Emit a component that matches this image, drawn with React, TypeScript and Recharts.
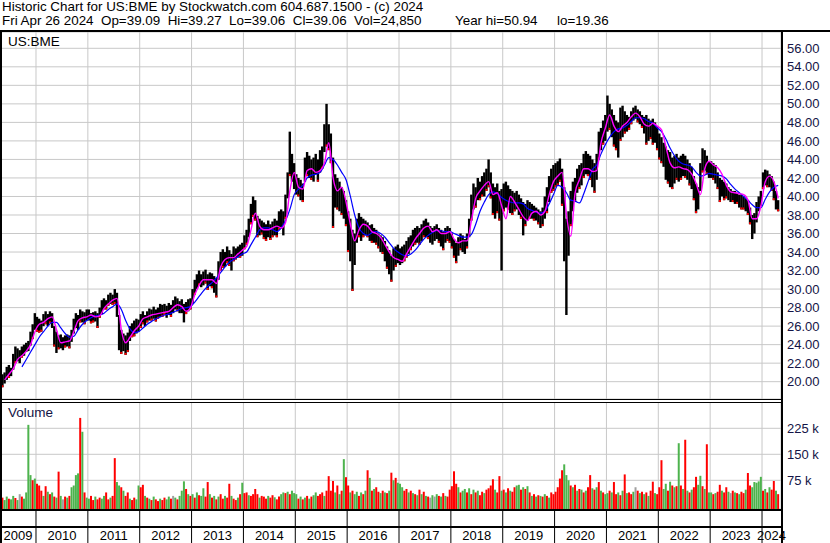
import React from "react";
import { ComposedChart, Bar, Line, XAxis, YAxis, CartesianGrid, Cell } from "recharts";

// ---------- data ----------
const YEARS = [2009, 2010, 2011, 2012, 2013, 2014, 2015, 2016, 2017, 2018, 2019, 2020, 2021, 2022, 2023, 2024];
const FIRST_SLOT_2009 = 8; // data starts in May 2009 (half-month slots)
const FIRST_MONTH_2009 = 4; // May

// half-month highs
const HIGH = [
  [20.8,21.0,21.6,21.8,21.5,23.0,23.8,23.6, 23.4,23.8,24.0,24.2,24.4,25.4,26.2,27.4],
  [27.0,26.8,26.6,27.3,27.6,27.3,27.6,27.4, 26.0,25.4,25.0,25.1,24.8,25.0,25.1,25.0, 25.6,26.8,27.4,27.2,27.8,27.6,27.5,27.8],
  [27.8,27.4,27.5,27.6,27.4,28.0,28.8,29.0, 28.8,29.4,29.6,29.4,30.0,29.6,27.2,25.6, 25.2,25.0,25.3,26.0,26.3,26.6,26.8,26.7],
  [27.3,27.6,27.2,27.6,27.9,27.8,28.1,27.8, 28.0,28.4,28.3,28.4,28.2,28.5,28.3,28.8, 29.2,29.0,28.7,28.9,28.4,28.6,28.9,29.0],
  [30.0,31.0,31.6,32.0,31.6,31.9,32.1,31.6, 31.8,31.7,31.4,31.2,33.0,34.0,34.3,34.0, 34.6,34.2,33.8,34.6,34.4,34.6,34.8,35.0],
  [35.8,36.4,37.6,39.2,40.0,39.6,37.9,37.6, 37.4,37.2,37.0,37.4,37.0,37.3,37.6,37.4, 38.4,38.6,38.4,40.2,42.6,47.0,44.6,43.6],
  [42.4,42.0,41.8,41.4,44.2,44.8,44.4,44.0, 44.2,44.6,44.0,45.0,45.4,47.8,50.0,47.8, 46.8,44.2,42.4,42.0,41.6,41.0,40.6,39.6],
  [38.4,37.6,36.4,36.0,37.6,38.2,37.8,37.6, 37.4,37.2,36.9,37.0,36.6,36.4,36.0,35.8, 35.6,35.2,34.6,34.2,33.6,34.4,34.6,34.8],
  [34.4,34.6,34.8,35.2,35.6,35.8,36.4,36.6, 36.8,36.6,37.0,37.4,37.6,37.2,36.8,36.6, 36.8,37.0,36.6,36.4,36.2,36.6,36.8,36.6],
  [36.0,35.4,35.0,35.6,36.0,35.8,35.4,36.0, 37.6,40.2,41.4,41.0,42.0,41.6,42.2,42.6, 43.0,44.0,42.6,41.4,41.0,41.4,40.6,40.8],
  [41.4,41.6,41.2,40.8,40.6,40.4,40.6,40.2, 39.8,39.4,39.2,39.6,39.4,39.2,39.0,38.8, 38.6,38.4,38.8,40.0,41.0,42.2,43.0,43.4],
  [43.6,43.8,44.1,43.0,41.0,37.6,38.4,40.6, 41.6,42.0,43.0,43.4,43.6,44.6,44.9,44.6, 44.4,44.0,43.6,44.6,47.0,47.4,48.2,48.8],
  [50.9,50.0,49.4,48.8,48.2,48.0,49.6,49.8, 49.2,48.8,48.6,49.2,49.6,49.8,49.4,49.2, 48.8,48.6,48.8,48.4,48.2,48.4,48.0,47.6],
  [46.8,46.4,45.8,45.4,45.0,44.8,44.2,44.4, 44.6,44.2,44.4,44.6,44.4,44.0,43.6,43.2, 42.2,41.4,41.0,43.6,45.2,45.0,44.4,43.8],
  [43.8,43.6,43.4,42.6,42.0,41.8,41.6,41.4, 41.0,40.8,40.6,40.6,40.4,40.2,40.2,40.0, 39.8,39.6,38.8,38.0,38.2,39.4,40.0,40.6],
  [42.6,42.9,42.8,42.4,42.2,41.6,40.6,39.6],
];

// half-month lows
const LOW = [
  [19.4,19.8,20.2,20.4,20.6,21.3,22.0,22.2, 22.0,22.6,22.8,23.2,23.3,23.9,24.6,25.6],
  [25.4,25.3,25.4,26.0,26.2,26.0,26.3,25.8, 23.8,23.1,23.5,23.6,23.4,23.7,23.8,23.6, 24.3,25.2,25.8,25.6,26.4,26.4,26.2,26.6],
  [26.6,26.3,26.4,26.5,25.8,26.9,27.3,27.8, 27.8,28.2,28.4,28.3,28.4,27.0,23.4,23.0, 23.3,22.9,23.2,24.4,24.8,24.9,25.2,25.4],
  [25.8,26.2,26.0,26.4,26.6,26.6,26.8,26.5, 26.8,27.0,27.0,27.2,26.9,27.2,27.0,27.4, 27.8,27.6,27.4,27.4,26.4,27.3,27.6,27.8],
  [28.4,29.4,30.0,30.4,30.2,30.4,30.6,29.9, 30.3,30.1,29.6,29.1,31.0,32.0,32.3,32.4, 32.8,32.5,32.0,33.0,33.2,33.4,33.4,33.6],
  [34.3,34.8,35.6,37.0,37.8,37.4,35.6,35.8, 35.9,35.4,35.2,35.6,35.3,35.6,35.8,35.6, 36.4,36.5,35.8,37.6,39.8,42.2,41.6,40.8],
  [40.2,40.0,39.6,39.4,41.6,42.2,42.0,41.8, 41.6,42.4,41.6,42.6,43.0,44.8,45.4,45.0, 43.6,36.6,38.8,38.6,38.4,38.0,37.6,36.8],
  [34.0,33.0,29.8,32.6,35.0,35.6,35.2,35.6, 35.8,35.6,35.2,35.0,35.0,34.8,34.4,34.0, 33.8,33.0,32.2,31.6,30.8,32.0,32.4,32.8],
  [32.6,32.8,33.0,33.4,33.8,34.2,34.6,34.8, 35.0,34.8,35.2,35.6,35.6,35.4,35.0,34.8, 35.2,35.4,35.0,34.6,34.2,35.0,35.2,35.0],
  [34.4,33.4,32.8,33.6,34.2,34.0,33.8,34.4, 35.6,37.4,38.6,38.8,39.6,39.6,40.0,40.0, 40.6,41.0,39.8,38.0,37.6,38.2,37.4,32.0],
  [38.4,38.8,38.6,38.2,38.0,38.4,38.6,38.0, 37.6,35.8,36.8,37.4,37.6,37.6,37.4,37.4, 37.0,36.6,36.8,37.6,38.2,39.4,40.4,40.6],
  [41.0,41.2,41.6,39.0,33.0,27.2,33.6,36.8, 38.4,39.4,40.4,40.8,41.2,42.0,42.4,42.2, 41.8,41.0,40.4,41.8,44.0,45.0,45.6,46.0],
  [47.0,47.2,46.4,45.4,45.0,44.2,46.0,46.4, 46.8,47.0,47.2,47.8,48.2,48.4,48.0,47.8, 47.4,46.8,45.6,46.0,46.2,45.6,45.8,45.0],
  [44.0,43.6,43.2,41.8,41.4,41.0,40.8,41.4, 41.8,41.6,41.8,42.2,42.0,41.8,41.2,40.8, 39.6,38.2,38.6,40.6,42.6,42.8,42.4,42.0],
  [42.0,41.8,41.4,40.8,39.4,40.0,39.6,39.8, 39.6,39.4,39.4,39.2,39.2,38.8,38.6,38.6, 38.4,38.0,37.0,35.4,36.0,37.2,38.4,39.0],
  [40.8,41.2,41.0,41.0,40.6,39.6,38.6,38.4],
];

// half-month volume, thousands of shares
const VOL = [
  [25,18,28,22,20,30,24,18, 35,28,22,40,235,90,75,80],
  [65,60,45,30,58,42,35,40, 28,25,100,30,20,28,25,30, 55,60,90,95,255,215,40,25],
  [22,30,18,28,20,25,22,30, 40,20,25,30,139,70,60,55, 45,30,40,22,18,25,20,60],
  [55,62,30,25,22,18,28,20, 15,22,18,25,20,28,22,30, 25,20,30,45,72,50,35,30],
  [35,25,40,32,30,52,28,70, 35,25,30,20,28,35,22,30, 25,65,30,22,18,25,35,68],
  [38,40,32,30,35,50,35,25, 30,28,22,30,25,32,26,20, 28,35,40,38,42,35,45,38],
  [35,22,28,20,25,30,22,28, 32,40,30,35,40,30,45,87, 45,73,40,60,35,45,136,84],
  [60,40,45,35,42,30,40,35, 45,104,82,45,50,55,42,38, 45,40,38,45,97,75,82,68],
  [65,55,45,50,40,45,38,35, 32,48,35,42,30,28,25,32, 28,35,30,28,38,30,28,48],
  [58,101,65,55,40,45,50,40, 52,35,48,40,45,32,42,38, 48,52,60,78,48,40,87,45],
  [48,40,52,45,42,55,60,62, 48,55,50,58,40,30,35,28, 32,30,28,35,30,25,40,35],
  [42,55,80,104,121,90,75,60, 55,62,45,50,48,40,45,55, 90,52,48,55,70,45,40,35],
  [38,45,40,70,35,40,32,45, 92,38,40,35,42,55,45,38, 42,35,40,30,45,71,38,35],
  [55,133,50,65,45,71,60,55, 58,182,60,50,192,45,40,48, 55,85,62,88,58,50,179,40],
  [40,35,38,42,62,45,40,55, 42,38,45,40,38,35,42,38, 48,96,60,55,70,68,72,85],
  [45,50,40,55,48,73,45,35],
];

// volume bar colour per half-month: r = down, g = up, x = unchanged
const VOL_COLOR = [
  "rggrggrgxrggggrg",
  "rrrgrgrgrgrgxrgrggggrgrg",
  "grrgrrggrrgrrggrgrrgrrgg",
  "rrgrgrgrrgrrggrxgrgggrgr",
  "grgrggrrgrgrgrrgrrgrrgrg",
  "rrgrrrrgrrrgrrgrrggrgrgg",
  "grgrgrgrggrrrgrrrrgrgrgr",
  "rgrggrgrgrgrgrrgrgrgrgrg",
  "ggrrgrgrgrgrgrxgxgrgrgrr",
  "rrrgrggrgrgrgrrgrrrrgrrg",
  "rgrgrrggrgrgrgrgrgrgrgrr",
  "rrrrgggrgrgrgrgrrgrgrgrg",
  "grgrrgrgrgrrgxrgrgrgrrgr",
  "rrggrgrgrgrgrgrgrrggrgrg",
  "grgrrgrrgxrgrgrrgrrggggg",
  "rgrgrrgr",
];

// monthly moving averages (fast = magenta, slow = blue)
const MA_FAST = [
  [20.2,20.8,21.4,22.4,22.8,23.3,24.0,25.4],
  [26.2,26.4,26.8,27.0,25.6,24.2,24.3,24.4,25.4,26.6,26.9,27.0],
  [27.2,27.0,27.1,27.9,28.4,28.8,29.0,25.6,24.2,24.8,25.5,26.0],
  [26.8,27.0,27.2,27.3,27.4,27.5,27.6,28.0,28.3,28.1,27.6,28.0],
  [29.4,30.4,31.0,31.0,31.0,30.6,32.4,33.2,33.4,33.4,33.8,34.2],
  [34.6,36.4,38.2,36.8,36.4,36.4,36.6,36.8,36.6,37.2,40.6,42.6],
  [41.0,40.8,42.8,43.0,42.6,42.8,43.6,45.8,42.0,40.6,41.0,39.4],
  [37.0,35.2,36.4,37.0,36.8,36.2,36.0,35.6,34.8,34.0,33.4,33.2],
  [33.0,33.8,34.6,35.4,36.0,36.6,36.8,36.2,36.4,36.0,36.0,36.2],
  [35.4,35.0,35.2,35.2,37.4,39.8,40.6,41.2,41.6,40.2,40.4,39.0],
  [37.6,40.0,39.4,38.6,37.8,37.4,38.2,38.4,38.0,38.4,40.2,41.6],
  [42.2,42.6,38.0,35.7,40.4,41.8,43.0,43.0,42.7,42.8,45.8,47.4],
  [48.8,47.6,47.0,47.6,48.0,48.6,49.0,48.6,47.8,47.6,47.9,47.6],
  [47.2,45.4,43.6,43.1,43.2,43.0,42.9,42.4,41.4,40.2,43.0,43.8],
  [43.4,43.1,42.4,41.2,40.5,40.4,40.3,40.2,39.6,37.6,37.6,39.0],
  [41.6,42.2,41.6,39.8],
];

const MA_SLOW = [
  [null,null,null,null,21.6,22.4,23.2,24.0],
  [24.8,25.4,26.0,26.4,26.4,25.8,25.2,24.8,24.9,25.6,26.2,26.6],
  [26.9,27.1,27.2,27.4,27.8,28.1,28.4,27.8,26.6,25.7,25.3,25.4],
  [25.8,26.2,26.5,26.8,27.0,27.2,27.3,27.5,27.7,27.9,28.0,28.1],
  [28.6,29.2,29.8,30.3,30.7,31.2,31.8,32.4,32.9,33.2,33.5,33.8],
  [34.0,34.8,35.6,36.4,36.6,36.6,36.4,36.2,36.6,37.4,38.6,40.2],
  [40.8,41.2,42.0,42.3,42.4,42.6,43.4,44.2,44.0,43.4,42.6,41.8],
  [40.0,38.0,36.6,36.0,35.8,36.1,36.2,36.0,35.6,35.0,34.4,34.0],
  [33.7,33.6,33.8,34.2,34.8,35.4,35.8,36.1,36.3,36.3,36.2,36.2],
  [36.0,35.8,35.6,35.6,35.9,37.0,38.4,39.4,40.2,40.5,40.3,39.9],
  [39.6,39.4,39.3,39.3,39.2,38.7,38.5,38.3,38.2,38.4,39.2,40.2],
  [41.2,41.0,40.4,39.6,39.5,39.3,40.3,41.6,42.9,43.4,44.6,45.6],
  [46.4,47.0,47.3,47.4,47.7,48.1,48.5,48.5,48.4,48.1,47.9,47.4],
  [47.0,46.2,45.2,44.4,43.8,43.5,43.4,43.2,42.6,42.2,42.3,42.5],
  [42.4,42.3,42.2,41.9,41.3,40.8,40.4,40.0,39.6,39.1,38.8,38.8],
  [39.7,40.5,41.0,41.2],
];

const PRICE_TICKS = [20,22,24,26,28,30,32,34,36,38,40,42,44,46,48,50,52,54,56];
const VOL_TICKS = [75, 150, 225];
const YEAR_LINES = [2010,2011,2012,2013,2014,2015,2016,2017,2018,2019,2020,2021,2022,2023,2024];

// header texts
const TITLE = "Historic Chart for US:BME by Stockwatch.com 604.687.1500 - (c) 2024";
const QUOTE = "Fri Apr 26 2024  Op=39.09  Hi=39.27  Lo=39.06  Cl=39.06  Vol=24,850";
const YEAR_HI = "Year hi=50.94";
const YEAR_LO = "lo=19.36";

// ---------- axis setup ----------
const X_DOMAIN: [number, number] = [2009.306, 2024.366];
const PRICE_DOMAIN: [number, number] = [18.13, 57.76];
const VOL_DOMAIN: [number, number] = [-7.8, 300.9];
const VOL_PLOT_H = 107;
const DATE_BAND_H = 34;

const LABEL_TICKS = YEARS.map((y, i) => {
  const start = i === 0 ? X_DOMAIN[0] : y;
  const end = i === YEARS.length - 1 ? X_DOMAIN[1] : y + 1;
  return (start + end) / 2;
});
const AXIS_TICKS = [...YEAR_LINES, ...LABEL_TICKS].sort((a, b) => a - b);

const VOL_FILL: Record<string, string> = { r: "#ff0000", g: "#4db34d", x: "#a0a0a0" };

type Row = { t: number; hi: number; lo: number; vol: number; vc: string; fast: number | null; slow: number | null };

const rows: Row[] = [];
YEARS.forEach((yr, yi) => {
  const off = yi === 0 ? FIRST_SLOT_2009 : 0;
  const yearRows: Row[] = HIGH[yi].map((h, i) => ({
    t: yr + (off + i + 0.5) / 24,
    hi: h,
    lo: LOW[yi][i],
    vol: VOL[yi][i],
    vc: VOL_COLOR[yi][i],
    fast: null,
    slow: null,
  }));
  const mOff = yi === 0 ? FIRST_MONTH_2009 : 0;
  MA_FAST[yi].forEach((v, j) => {
    const slot = (mOff + j) * 2 + 1 - off;
    if (yearRows[slot]) {
      yearRows[slot].fast = v;
      yearRows[slot].slow = MA_SLOW[yi][j];
    }
  });
  rows.push(...yearRows);
});

const FONT = '"Liberation Sans", Arial, sans-serif';
const TICK_COLOR = "#141446";
const GRID = "#c8c8c8";

const AxisTick = (props: any) => {
  const { x, payload } = props;
  const v = payload.value as number;
  if (Number.isInteger(v)) {
    return <line x1={x} x2={x} y1={VOL_PLOT_H} y2={VOL_PLOT_H + DATE_BAND_H} stroke="#000" strokeWidth={1} />;
  }
  return (
    <text x={x} y={VOL_PLOT_H + 31} textAnchor="middle" fontSize={13} fontFamily={FONT} fill="#000">
      {Math.floor(v)}
    </text>
  );
};

// price bar: black high-low bar, red tick at the low end of down periods
const PriceBar = (props: any) => {
  const { x, y, width, height, payload } = props;
  if (height == null || isNaN(y)) return null;
  return (
    <g>
      <rect x={x - 0.2} y={y} width={width + 0.4} height={Math.max(height, 1)} fill="#000" />
      {payload.vc === "r" ? <rect x={x} y={y + height - 2} width={width} height={2} fill="#ff0000" /> : null}
    </g>
  );
};

const line = (style: React.CSSProperties) => (
  <div style={{ position: "absolute", background: "#000", ...style }} />
);

const HEADER: React.CSSProperties = {
  position: "absolute",
  fontSize: 13.4,
  lineHeight: "14px",
  whiteSpace: "pre",
  color: "#000",
};

export default function App() {
  return (
    <div
      style={{
        position: "absolute",
        left: 0,
        top: 0,
        width: 830,
        height: 543,
        background: "#fff",
        overflow: "hidden",
        fontFamily: FONT,
      }}
    >
      <div style={{ ...HEADER, left: 2, top: 0 }}>{TITLE}</div>
      <div style={{ ...HEADER, left: 2, top: 14 }}>{QUOTE}</div>
      <div style={{ ...HEADER, left: 455, top: 14 }}>{YEAR_HI}</div>
      <div style={{ ...HEADER, left: 557, top: 14 }}>{YEAR_LO}</div>

      <div style={{ position: "absolute", left: 0, top: 32 }}>
        <ComposedChart width={830} height={367} data={rows} margin={{ top: 0, right: 0, bottom: 0, left: 0 }}>
          <CartesianGrid stroke={GRID} strokeWidth={1} />
          <XAxis dataKey="t" type="number" domain={X_DOMAIN} ticks={YEAR_LINES} allowDataOverflow hide />
          <YAxis
            orientation="right"
            width={49}
            type="number"
            domain={PRICE_DOMAIN}
            ticks={PRICE_TICKS}
            allowDataOverflow
            axisLine={false}
            tickLine={false}
            tickSize={0}
            tickMargin={6}
            interval={0}
            tickFormatter={(v: number) => v.toFixed(2)}
            tick={{ fontSize: 13, fontFamily: FONT, fill: TICK_COLOR }}
          />
          <Bar dataKey={(d: Row) => [d.lo, d.hi]} fill="#000" barSize={2} shape={<PriceBar />} isAnimationActive={false} />
          <Line dataKey="slow" stroke="#0000ff" strokeWidth={1.2} dot={false} connectNulls type="monotone" isAnimationActive={false} />
          <Line dataKey="fast" stroke="#ff00ff" strokeWidth={1.4} dot={false} connectNulls type="monotone" isAnimationActive={false} />
        </ComposedChart>
      </div>

      <div style={{ position: "absolute", left: 0, top: 402 }}>
        <ComposedChart width={830} height={VOL_PLOT_H + DATE_BAND_H} data={rows} margin={{ top: 0, right: 0, bottom: 0, left: 0 }}>
          <CartesianGrid stroke={GRID} strokeWidth={1} xAxisId="grid" />
          <XAxis xAxisId="grid" dataKey="t" type="number" domain={X_DOMAIN} ticks={YEAR_LINES} allowDataOverflow hide />
          <XAxis
            xAxisId="main"
            dataKey="t"
            type="number"
            domain={X_DOMAIN}
            ticks={AXIS_TICKS}
            interval={0}
            allowDataOverflow
            height={DATE_BAND_H}
            axisLine={false}
            tickLine={false}
            tickSize={0}
            tickMargin={0}
            tick={<AxisTick />}
          />
          <YAxis
            orientation="right"
            width={49}
            type="number"
            domain={VOL_DOMAIN}
            ticks={VOL_TICKS}
            allowDataOverflow
            axisLine={false}
            tickLine={false}
            tickSize={0}
            tickMargin={6}
            interval={0}
            tickFormatter={(v: number) => `${v} k`}
            tick={{ fontSize: 13, fontFamily: FONT, fill: TICK_COLOR }}
          />
          <Bar xAxisId="main" dataKey={(d: Row) => [VOL_DOMAIN[0], d.vol]} barSize={2} isAnimationActive={false}>
            {rows.map((r, i) => (
              <Cell key={i} fill={VOL_FILL[r.vc]} />
            ))}
          </Bar>
        </ComposedChart>
      </div>

      <div style={{ position: "absolute", left: 8, top: 35, fontSize: 13.5, lineHeight: "14px", color: "#000" }}>US:BME</div>
      <div style={{ position: "absolute", left: 8, top: 406, fontSize: 13.5, lineHeight: "14px", color: TICK_COLOR }}>Volume</div>

      {line({ left: 0, top: 30, width: 830, height: 2 })}
      {line({ left: 0, top: 30, width: 2, height: 513 })}
      {line({ left: 781, top: 30, width: 2, height: 513 })}
      {line({ left: 0, top: 399, width: 782, height: 1 })}
      {line({ left: 0, top: 402, width: 782, height: 1 })}
      {line({ left: 0, top: 509, width: 782, height: 2 })}
      {line({ left: 0, top: 526, width: 782, height: 2 })}
    </div>
  );
}
